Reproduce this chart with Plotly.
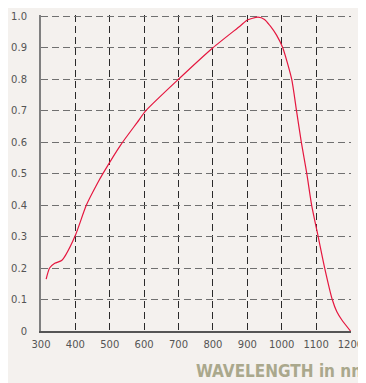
import plotly.graph_objects as go

wavelength = [315, 325, 340, 360, 372, 400, 432, 465, 480, 531, 580, 605, 700, 800,
              880, 900, 931, 950, 966, 985, 1003, 1029, 1043, 1057, 1073, 1087, 1106,
              1125, 1147, 1160, 1175, 1200]
response = [0.165, 0.2, 0.215, 0.224, 0.242, 0.304, 0.40, 0.471, 0.5, 0.59, 0.663, 0.7,
            0.8, 0.9, 0.97, 0.988, 0.997, 0.99, 0.97, 0.94, 0.9, 0.8, 0.7, 0.6, 0.5,
            0.4, 0.3, 0.2, 0.1, 0.062, 0.035, 0.0]

x_ticks = [300, 400, 500, 600, 700, 800, 900, 1000, 1100, 1200]
y_ticks = [0, 0.1, 0.2, 0.3, 0.4, 0.5, 0.6, 0.7, 0.8, 0.9, 1.0]
y_tick_labels = ["0", "0.1", "0.2", "0.3", "0.4", "0.5", "0.6", "0.7", "0.8", "0.9", "1.0"]
x_title = "WAVELENGTH in nm"

bg = "#f4f1ee"

fig = go.Figure()
fig.add_trace(go.Scatter(x=wavelength, y=response, mode="lines",
                         line=dict(color="#e5173f", width=1.2, shape="spline", smoothing=0.6),
                         hoverinfo="skip", showlegend=False))

fig.update_layout(
    width=358, height=375,
    margin=dict(l=30, r=10, t=3, b=52),
    paper_bgcolor=bg, plot_bgcolor=bg,
    font=dict(family="DejaVu Sans", size=10, color="#555555"),
    xaxis=dict(range=[300, 1201.5], tickvals=x_ticks, showgrid=True,
               gridcolor="#2a2a2a", griddash="7px,4px", gridwidth=1,
               showline=True, linecolor="#555555", linewidth=2,
               ticks="", ticklabelstandoff=3, ticklabeloverflow="allow",
               zeroline=False, fixedrange=True),
    yaxis=dict(range=[0, 1.004], tickvals=y_ticks, ticktext=y_tick_labels, showgrid=True,
               gridcolor="#707070", griddash="7px,4px", gridwidth=1,
               showline=True, linecolor="#808080", linewidth=2,
               ticks="", ticklabelstandoff=10, ticklabeloverflow="allow",
               zeroline=False, fixedrange=True),
    annotations=[dict(text="<b>" + x_title + "</b>", xref="paper", yref="paper",
                      x=0.494, y=-0.128, xanchor="left", yanchor="middle",
                      showarrow=False,
                      font=dict(family="DejaVu Sans Condensed, Roboto Condensed, Liberation Sans Narrow, Roboto",
                                size=17, color="#aaa88c"))],
)

fig.write_html("out.html")
